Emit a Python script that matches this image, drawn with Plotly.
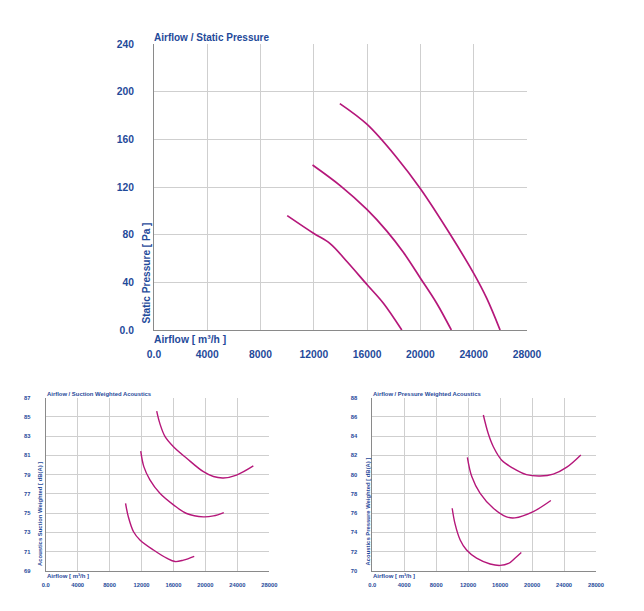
import plotly.graph_objects as go

# ---------------- data ----------------
# Static pressure curves (airflow m3/h, pressure Pa)
sp_x1 = [10000, 12000, 13220, 14480, 16000, 17220, 18600]
sp_y1 = [96, 81, 72.5, 57.5, 38, 22.5, 0]
sp_x2 = [11900, 14000, 16000, 17480, 18730, 20000, 21220, 22320]
sp_y2 = [138.5, 121, 101, 83, 65, 43.5, 22.5, 0]
sp_x3 = [13950, 16000, 18200, 20000, 22220, 24000, 24980, 25980]
sp_y3 = [190, 172.5, 145, 118.5, 80.5, 47.5, 26.5, 0]

# Suction weighted acoustics (dB(A))
su_x1 = [10000, 10350, 11000, 11800, 13500, 15150, 16200, 17250, 18600]
su_y1 = [76.0, 74.6, 73.05, 72.2, 71.15, 70.3, 69.95, 70.1, 70.5]
su_x2 = [11900, 12300, 13050, 14300, 16000, 17650, 19750, 21000, 22300]
su_y2 = [81.45, 79.8, 78.45, 77.05, 75.85, 74.95, 74.6, 74.7, 75.05]
su_x3 = [13900, 14300, 14950, 16000, 17650, 19750, 21000, 22250, 23900, 26000]
su_y3 = [85.6, 84.3, 82.95, 81.9, 80.7, 79.3, 78.8, 78.65, 78.95, 79.9]

# Pressure weighted acoustics (dB(A))
pw_x1 = [10000, 10350, 11000, 11800, 13050, 14750, 16000, 17050, 17850, 18650]
pw_y1 = [76.5, 74.9, 73.2, 72.15, 71.3, 70.7, 70.55, 70.75, 71.3, 71.9]
pw_x2 = [11900, 12450, 13500, 15150, 16800, 17850, 20150, 22350]
pw_y2 = [81.8, 79.8, 78.05, 76.5, 75.6, 75.5, 76.15, 77.3]
pw_x3 = [13900, 14500, 15150, 16200, 17650, 19300, 21000, 22650, 24300, 26100]
pw_y3 = [86.2, 84.3, 82.9, 81.5, 80.65, 80.0, 79.85, 80.05, 80.75, 82.05]

x_ticks = [0, 4000, 8000, 12000, 16000, 20000, 24000, 28000]
x_tick_text = ["0.0", "4000", "8000", "12000", "16000", "20000", "24000", "28000"]
sp_ticks = [0, 40, 80, 120, 160, 200, 240]
sp_tick_text = ["0.0", "40", "80", "120", "160", "200", "240"]
su_ticks = [69, 71, 73, 75, 77, 79, 81, 83, 85, 87]
pw_ticks = [70, 72, 74, 76, 78, 80, 82, 84, 86, 88]

# ---------------- style ----------------
W, H = 644, 611
TXT = "#1f4a9a"
CURVE = "#b5177a"
GRID = "#cfcfcf"
AXL = "#8a8a8a"
FONT = "Liberation Sans"

def px(x):
    return x / W

def py(y):
    return (H - y) / H

fig = go.Figure()

def add(xs, ys, xa, ya, w):
    fig.add_trace(go.Scatter(x=xs, y=ys, mode="lines",
                             line=dict(color=CURVE, width=w, shape="spline", smoothing=1.0),
                             xaxis=xa, yaxis=ya, showlegend=False, hoverinfo="skip"))

for xs, ys in [(sp_x1, sp_y1), (sp_x2, sp_y2), (sp_x3, sp_y3)]:
    add(xs, ys, "x", "y", 1.7)
for xs, ys in [(su_x1, su_y1), (su_x2, su_y2), (su_x3, su_y3)]:
    add(xs, ys, "x2", "y2", 1.4)
for xs, ys in [(pw_x1, pw_y1), (pw_x2, pw_y2), (pw_x3, pw_y3)]:
    add(xs, ys, "x3", "y3", 1.4)

def xax(domain, anchor, size, standoff):
    return dict(domain=domain, anchor=anchor, range=[0, 28000], tickvals=x_ticks, ticktext=x_tick_text,
                showgrid=True, gridcolor=GRID, gridwidth=1, showline=True, linecolor=AXL, linewidth=1,
                zeroline=False, ticks="", ticklabelstandoff=standoff, automargin=False,
                tickfont=dict(family=FONT, size=size, color=TXT, weight="bold"), fixedrange=True)

def yax(domain, anchor, rng, vals, text, size, standoff):
    return dict(domain=domain, anchor=anchor, range=rng, tickvals=vals, ticktext=text,
                showgrid=True, gridcolor=GRID, gridwidth=1, showline=True, linecolor=AXL, linewidth=1,
                zeroline=False, ticks="", ticklabelstandoff=standoff, automargin=False,
                tickfont=dict(family=FONT, size=size, color=TXT, weight="bold"), fixedrange=True)

top_x = [px(154), px(527)]
top_y = [py(330), py(44)]
bl_x = [px(45.7), px(269.3)]
br_x = [px(372.3), px(596)]
b_y = [py(570.7), py(397.7)]

fig.update_layout(
    width=W, height=H, margin=dict(l=0, r=0, t=0, b=0),
    paper_bgcolor="white", plot_bgcolor="white",
    xaxis=xax(top_x, "y", 10.3, 15),
    yaxis=yax(top_y, "x", [0, 240], sp_ticks, sp_tick_text, 10.3, 17),
    xaxis2=xax(bl_x, "y2", 5.8, 8),
    yaxis2=yax(b_y, "x2", [69, 87], su_ticks, [str(v) for v in su_ticks], 5.8, 13),
    xaxis3=xax(br_x, "y3", 5.8, 8),
    yaxis3=yax(b_y, "x3", [70, 88], pw_ticks, [str(v) for v in pw_ticks], 5.8, 13),
)

def ann(text, x, y, size, xanchor="left", yanchor="middle", angle=0):
    fig.add_annotation(text=text, x=px(x), y=py(y), xref="paper", yref="paper", showarrow=False,
                       xanchor=xanchor, yanchor=yanchor, textangle=angle,
                       font=dict(family=FONT, size=size, color=TXT, weight="bold"))

# top chart texts
ann("Airflow / Static Pressure", 152, 37, 10)
ann("Airflow [ m³/h ]", 152, 339.5, 10.3)
ann("Static Pressure [ Pa ]", 146, 326, 10.1, xanchor="center", yanchor="bottom", angle=-90)

# bottom-left texts
ann("Airflow / Suction Weighted Acoustics", 44.5, 394, 5.9)
ann("Airflow [ m³/h ]", 44.5, 576, 6)
ann("Acoustics Suction Weighted [ dB(A) ]", 40, 568, 5.9, xanchor="center", yanchor="bottom", angle=-90)

# bottom-right texts
ann("Airflow / Pressure Weighted Acoustics", 371, 394, 5.9)
ann("Airflow [ m³/h ]", 371, 576, 6)
ann("Acoustics Pressure Weighted [ dB(A) ]", 367.5, 568, 5.9, xanchor="center", yanchor="bottom", angle=-90)

fig.write_html("out.html")
